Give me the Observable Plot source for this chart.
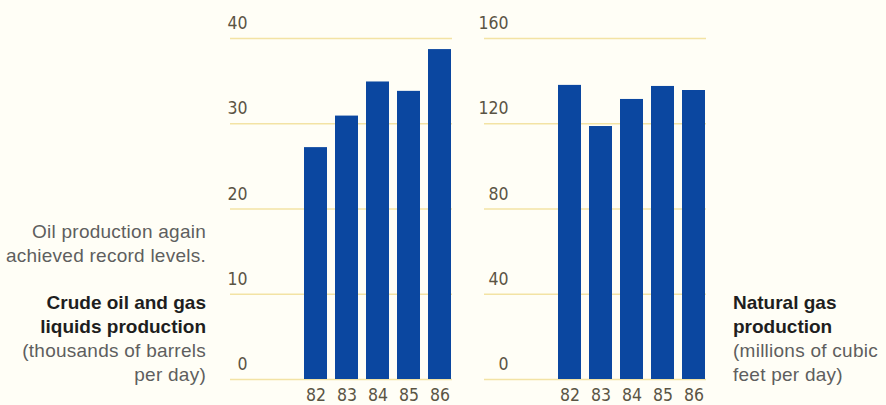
<!DOCTYPE html>
<html><head><meta charset="utf-8">
<script src="https://cdn.jsdelivr.net/npm/d3@7"></script>
<script src="https://cdn.jsdelivr.net/npm/@observablehq/plot@0.6"></script>
<style>
html,body{margin:0;padding:0;background:#fffef6;}
#wrap{position:relative;width:886px;height:405px;overflow:hidden;background:#fffef6;font-family:"Liberation Sans",Arial,sans-serif;}
#wrap svg{position:absolute;left:0;top:0;background:transparent;}
#wrap svg text{font-stretch:condensed;}
.note{position:absolute;font-size:19px;line-height:24px;color:#5e5e5e;letter-spacing:0.25px;}
.note b{color:#1e1e1e;letter-spacing:0;}
</style></head>
<body><div id="wrap"></div>
<script>
const years = ["82","83","84","85","86"];
const oilValues = [27.2, 30.9, 34.9, 33.8, 38.7];
const gasValues = [138, 118.7, 131.4, 137.5, 135.6];
const oilTicks = [0, 10, 20, 30, 40];
const gasTicks = [0, 40, 80, 120, 160];

const BAR = "#0b47a0", GRID = "#f3e3a4", TXT = "#5a5444";
const numFont = '"DejaVu Sans Condensed","Liberation Sans Narrow","DejaVu Sans",sans-serif';

function chart(values, ticks, gridL, gridR, xRange, dxLab) {
  const data = years.map((y, i) => ({year: y, value: values[i]}));
  return Plot.plot({
    width: 886, height: 405,
    marginLeft: gridL, marginRight: 886 - gridR, marginTop: 38, marginBottom: 26,
    style: {background: "transparent", fontFamily: numFont, fontSize: "17.5px", color: TXT, overflow: "visible"},
    x: {domain: years, range: xRange, paddingInner: 0.25, paddingOuter: 0.12, label: null},
    y: {domain: [0, ticks[ticks.length - 1]], label: null},
    marks: [
      Plot.ruleY(ticks, {stroke: GRID, strokeWidth: 1.3}),
      Plot.barY(data, {x: "year", y: "value", fill: BAR}),
      Plot.axisY(ticks, {tickSize: 0, tickPadding: 0, textAnchor: "end", dx: dxLab, dy: -15, label: null, fill: TXT}),
      Plot.axisX({tickSize: 0, tickPadding: 9, label: null, fill: TXT})
    ]
  });
}

const wrap = document.getElementById("wrap");
wrap.appendChild(chart(oilValues, oilTicks, 230, 452, [298, 457], 17));
wrap.appendChild(chart(gasValues, gasTicks, 484, 706, [552, 711], 24));

function note(html, style) {
  const d = document.createElement("div");
  d.className = "note";
  d.innerHTML = html;
  Object.assign(d.style, style);
  wrap.appendChild(d);
}
note("Oil production again<br>achieved record levels.", {right: (886 - 206) + "px", top: "220px", textAlign: "right"});
note("<b>Crude oil and gas<br>liquids production</b><br>(thousands of barrels<br>per day)", {right: (886 - 206) + "px", top: "291px", textAlign: "right"});
note("<b>Natural gas<br>production</b><br>(millions of cubic<br>feet per day)", {left: "733px", top: "291px", textAlign: "left"});
</script></body></html>
